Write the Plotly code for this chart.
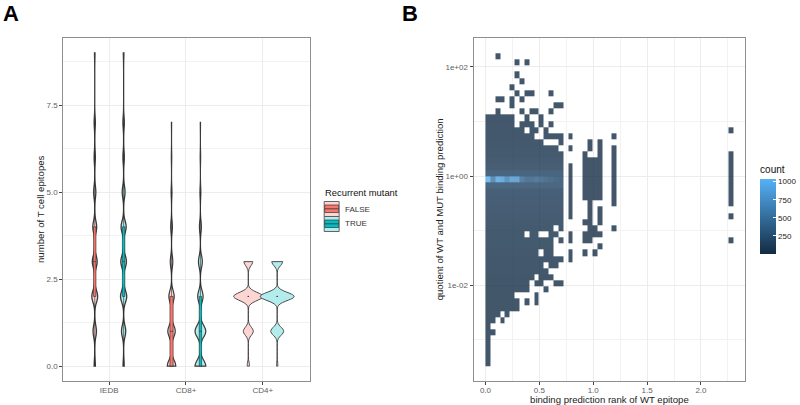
import numpy as np
import plotly.graph_objects as go

W, H = 800, 405

# ---------- Panel A data ----------
CATEGORIES = ["IEDB", "CD8+", "CD4+"]
GROUPS = ["FALSE", "TRUE"]
# sample counts for epitope numbers 0, 1, 2, ...
IEDB_FALSE = [5, 14, 24, 20, 16, 9, 5, 5, 0, 2]
IEDB_TRUE = [4, 15, 22, 20, 18, 10, 5, 5, 0, 2]
CD8_FALSE = [40, 35, 25, 12, 8, 4, 2, 1]
CD8_TRUE = [50, 50, 25, 18, 9, 4, 2, 1]
CD4_FALSE = [4, 17, 50, 15]
CD4_TRUE = [2, 19, 50, 16]
Y_TICKS_A = [0, 2.5, 5, 7.5]
Y_LABELS_A = ["0.0", "2.5", "5.0", "7.5"]
Y_MINOR_A = [1.25, 3.75, 6.25, 8.75]

# ---------- Panel B data ----------
X_TICKS_B = [0, 0.5, 1.0, 1.5, 2.0]
X_LABELS_B = ["0.0", "0.5", "1.0", "1.5", "2.0"]
X_MINOR_B = [0.25, 0.75, 1.25, 1.75, 2.25]
Y_TICKS_B = [1e-2, 1, 1e2]
Y_LABELS_B = ["1e-02", "1e+00", "1e+02"]
Y_MINOR_B = [1e-3, 1e-1, 1e1]
N_COLS, N_ROWS = 51, 51
COUNT_TICKS = [250, 500, 750, 1000]

# occupied bins per row (top row first): (first column, last column)
ROW_SPANS = {
    0: [(2, 2)], 1: [(6, 6), (8, 8)], 3: [(6, 6)], 4: [(7, 7)], 5: [(5, 5)],
    6: [(6, 6), (8, 9), (13, 13)], 7: [(2, 3), (5, 5), (7, 7)],
    8: [(5, 5), (14, 15)], 9: [(2, 2), (7, 7), (9, 10), (13, 13)],
    10: [(0, 5), (8, 8), (11, 11)], 11: [(0, 5), (7, 9), (11, 11), (13, 13)],
    12: [(0, 7), (9, 10), (12, 12), (50, 50)],
    13: [(0, 9), (12, 15), (17, 17), (26, 26)],
    14: [(0, 11), (15, 15), (21, 21), (23, 23)],
    15: [(0, 14), (17, 17), (21, 21), (23, 23), (26, 26)],
    16: [(0, 15), (20, 20), (23, 23), (26, 26), (50, 50)],
    17: [(0, 15), (20, 23), (26, 26), (50, 50)],
    18: [(0, 15), (17, 17), (20, 23), (26, 26), (50, 50)],
    19: [(0, 15), (17, 17), (20, 23), (26, 26), (50, 50)],
    20: [(0, 15), (17, 17), (20, 23), (26, 26), (50, 50)],
    21: [(0, 15), (17, 17), (20, 23), (26, 26), (50, 50)],
    22: [(0, 15), (17, 17), (20, 23), (26, 26), (50, 50)],
    23: [(0, 15), (17, 17), (20, 23), (26, 26), (50, 50)],
    24: [(0, 15), (17, 17), (21, 21), (26, 26), (50, 50)],
    25: [(0, 15), (17, 17), (21, 21), (23, 23)],
    26: [(0, 15), (17, 17), (21, 21), (23, 23), (50, 50)],
    27: [(0, 15), (20, 21), (23, 23)],
    28: [(0, 13), (15, 15), (21, 22), (26, 26)],
    29: [(0, 7), (9, 10), (13, 14), (17, 17), (20, 23)],
    30: [(0, 13), (15, 15), (17, 17), (20, 21), (50, 50)],
    31: [(0, 13), (23, 23)],
    32: [(0, 10), (12, 13), (17, 17), (20, 20), (22, 22)],
    33: [(0, 15), (17, 17)],
    34: [(0, 11), (13, 14)],
    35: [(0, 12)],
    36: [(0, 9), (11, 13)],
    37: [(0, 8), (10, 11), (14, 15)],
    38: [(0, 8), (12, 12)],
    39: [(0, 5), (10, 10)],
    40: [(0, 6), (8, 8), (10, 10)],
    41: [(0, 6)],
    42: [(0, 2), (4, 4)],
    43: [(0, 1), (3, 3)],
    44: [(0, 0)],
    45: [(0, 1)],
    46: [(0, 0)], 47: [(0, 0)], 48: [(0, 0)], 49: [(0, 0)], 50: [(0, 0)],
}
# typical count of the dense region per row
ROW_LEVEL = {10: 30, 11: 30, 12: 35, 13: 35, 14: 40, 15: 45, 16: 50, 17: 70, 18: 90,
             19: 160, 21: 180, 22: 110, 23: 100, 24: 90, 25: 75, 26: 70, 27: 60, 28: 55,
             29: 50, 30: 50, 31: 45, 32: 40, 33: 35, 34: 30, 35: 30}
# the bright band just below 1e+00, columns 0..15
BAND_COUNTS = [1000, 560, 900, 840, 620, 800, 780, 430, 340, 330, 390, 340, 290, 250, 220, 190]
BAND_ROW = 20
SPARSE_COUNT = 12


def px_x(v):
    return v / W


def px_y(v):
    return 1 - v / H


# ---------- geometry of panels ----------
A_L, A_R, A_T, A_B = 63.5, 310.3, 37.5, 381.2
B_L, B_R, B_T, B_B = 474.7, 747.2, 37.5, 381.2
DODGE = 0.188

fig = go.Figure()

# category, group, counts, violin width, inner box width, bandwidth, outline width
series = [
    (0, 0, IEDB_FALSE, 0.075, 0.42, 0.17, 1.3), (0, 1, IEDB_TRUE, 0.08, 0.4, 0.17, 1.3),
    (1, 0, CD8_FALSE, 0.11, 0.38, 0.17, 1.2), (1, 1, CD8_TRUE, 0.14, 0.22, 0.17, 1.2),
    (2, 0, CD4_FALSE, 0.38, 0.04, 0.115, 0.9), (2, 1, CD4_TRUE, 0.44, 0.035, 0.115, 0.9),
]
FILL = ["#FDD6D3", "#B2ECED"]
SOLID = ["#F8766D", "#00BFC4"]
for cat, grp, counts, width, box_w, bw, lw in series:
    vals = np.repeat(np.arange(len(counts)), counts)
    fig.add_trace(go.Violin(
        x0=cat + 1 + (2 * grp - 1) * DODGE, y=vals, orientation="v",
        name=GROUPS[grp], showlegend=False, width=width, scalemode="width",
        spanmode="hard", bandwidth=bw, points=False,
        fillcolor=FILL[grp], line=dict(color="#3a3a3a", width=lw),
        box=dict(visible=True, width=box_w, fillcolor=SOLID[grp],
                 line=dict(color="#2a2a2a", width=0.6)),
        meanline=dict(visible=False), hoverinfo="skip",
        xaxis="x", yaxis="y",
    ))

# bins
z = np.full((N_ROWS, N_COLS), np.nan)
for r, spans in ROW_SPANS.items():
    for c0, c1 in spans:
        for c in range(c0, c1 + 1):
            if c <= 15:
                z[r, c] = BAND_COUNTS[c] if r == BAND_ROW else ROW_LEVEL.get(r, 22)
            else:
                z[r, c] = SPARSE_COUNT

BIN_W = 0.04506
BIN_H = 0.1125
TOP_LOG = 2.251
x_centers = (np.arange(N_COLS) + 0.5) * BIN_W
y_centers = 10 ** (TOP_LOG - (np.arange(N_ROWS) + 0.5) * BIN_H)

fig.add_trace(go.Heatmap(
    x=x_centers, y=y_centers, z=z, xaxis="x2", yaxis="y2",
    zmin=1, zmax=1041, opacity=0.8, hoverongaps=False,
    colorscale=[[0, "#132B43"], [1, "#56B1F7"]],
    colorbar=dict(
        x=px_x(762), xanchor="left", xpad=0, thickness=15.6,
        lenmode="pixels", len=91, y=px_y(253.7), yanchor="bottom", ypad=0,
        outlinewidth=0, ticks="inside", ticklen=3, tickcolor="white", tickwidth=0.6,
        tickvals=COUNT_TICKS, ticktext=[str(v) for v in COUNT_TICKS],
        tickfont=dict(size=8, color="#222222"),
        title=dict(text="count", side="top", font=dict(size=10, color="#111111")),
    ),
))

AX = dict(
    showline=True, mirror=True, linecolor="#8f8f8f", linewidth=1,
    gridcolor="#ececec", gridwidth=1, zeroline=False,
    ticks="outside", ticklen=3, tickwidth=0.8, tickcolor="#444444",
    tickfont=dict(size=8, color="#606060"),
)
MINOR = dict(showgrid=True, gridcolor="#f2f2f2", gridwidth=0.6, ticks="")
TITLE = dict(size=9.6, color="#222222")

shapes = []
annotations = []


def rect(x0, y0, x1, y1, fill, line="#444444", lw=0.8):
    shapes.append(dict(type="rect", xref="paper", yref="paper",
                       x0=px_x(x0), x1=px_x(x1), y0=px_y(y1), y1=px_y(y0),
                       fillcolor=fill, line=dict(color=line, width=lw)))


def label(x, y, text, size=8.5, color="#333333", xanchor="left", font=None, bold=False):
    annotations.append(dict(
        xref="paper", yref="paper", x=px_x(x), y=px_y(y), text=f"<b>{text}</b>" if bold else text,
        showarrow=False, xanchor=xanchor, yanchor="middle", xshift=0, yshift=0,
        font=dict(size=size, color=color, family=font or "Liberation Sans")))


# legend of panel A
label(324, 192.5, "Recurrent mutant", size=9.4, color="#111111")
for i, grp in enumerate(GROUPS):
    top = 201.5 + 15 * i
    rect(325, top, 340, top + 15, FILL[i], line="#555555", lw=0.9)
    rect(325.5, top + 3.5, 339.5, top + 11, SOLID[i], line="#444444", lw=0.8)
    shapes.append(dict(type="line", xref="paper", yref="paper",
                       x0=px_x(325.5), x1=px_x(339.5),
                       y0=px_y(top + 7.3), y1=px_y(top + 7.3),
                       line=dict(color="#333333", width=0.8)))
    label(344, top + 7.5, grp, size=8, color="#333333")

label(1.5, 14, "A", size=22, color="#000000", bold=True)
label(401, 14, "B", size=22, color="#000000", bold=True)

fig.update_layout(
    width=W, height=H, margin=dict(l=0, r=0, t=0, b=0),
    paper_bgcolor="white", plot_bgcolor="white",
    font=dict(family="Liberation Sans"),
    violinmode="overlay", showlegend=False,
    xaxis=dict(AX, domain=[px_x(A_L), px_x(A_R)], range=[0.403, 3.609],
               tickvals=[1, 2, 3], ticktext=CATEGORIES, ticklabelstandoff=-2),
    yaxis=dict(AX, domain=[px_y(A_B), px_y(A_T)], range=[-0.435, 9.44],
               tickvals=Y_TICKS_A, ticktext=Y_LABELS_A,
               minor=dict(MINOR, tickvals=Y_MINOR_A),
               title=dict(text="number of T cell epitopes", font=TITLE, standoff=0)),
    xaxis2=dict(AX, anchor="y2", domain=[px_x(B_L), px_x(B_R)], range=[-0.111, 2.412],
                tickvals=X_TICKS_B, ticktext=X_LABELS_B, ticklabelstandoff=-2,
                minor=dict(MINOR, tickvals=X_MINOR_B),
                title=dict(text="binding prediction rank of WT epitope", font=TITLE, standoff=0)),
    yaxis2=dict(AX, anchor="x2", type="log", domain=[px_y(B_B), px_y(B_T)], range=[-3.76, 2.54],
                tickvals=Y_TICKS_B, ticktext=Y_LABELS_B,
                minor=dict(MINOR, tickvals=Y_MINOR_B),
                title=dict(text="quotient of WT and MUT binding prediction", font=TITLE, standoff=0)),
    shapes=shapes, annotations=annotations,
)

fig.write_html("out.html", post_script="document.body.style.margin='0';",
               config=dict(displayModeBar=False))
